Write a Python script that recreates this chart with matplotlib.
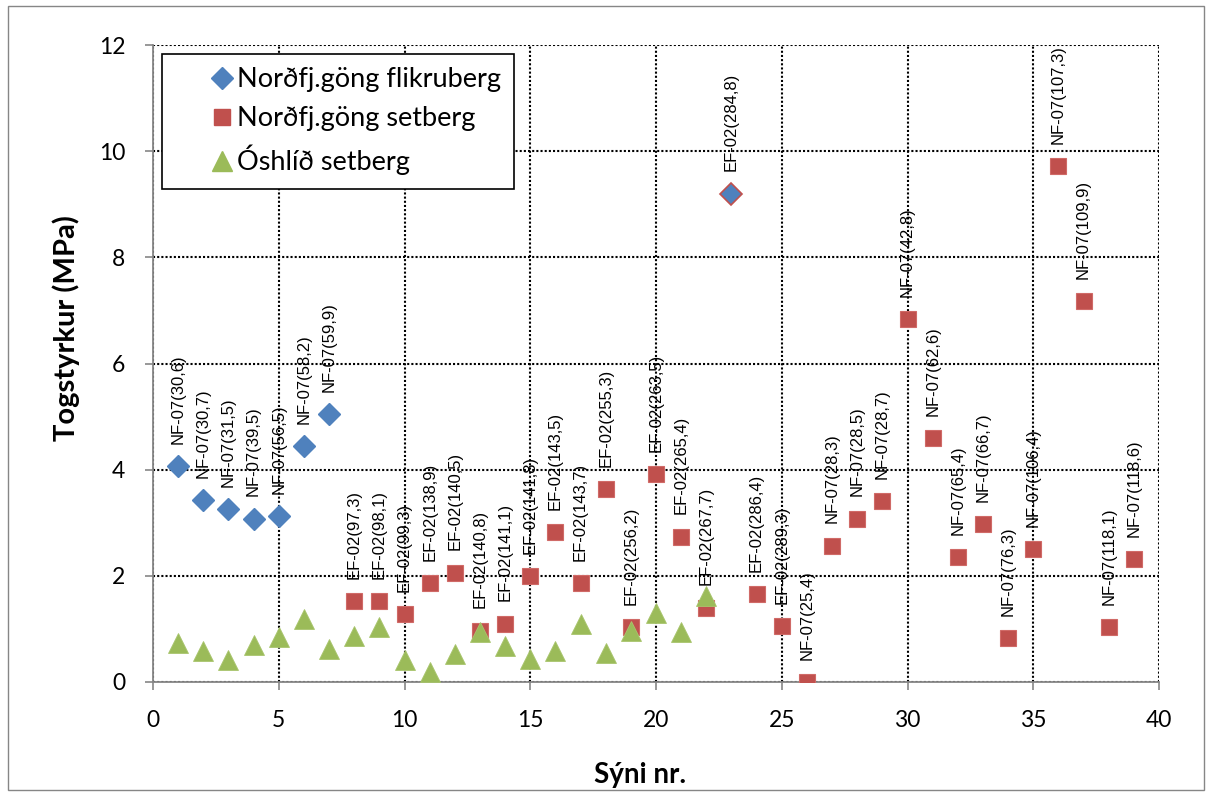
import matplotlib
matplotlib.use('Agg')
import matplotlib.pyplot as plt
from matplotlib.patches import Rectangle
from matplotlib.lines import Line2D

# Norðfj.göng flikruberg
flik_x = [1, 2, 3, 4, 5, 6, 7]
flik_y = [4.07, 3.43, 3.25, 3.08, 3.13, 4.45, 5.05]
flik_lab = ['NF-07(30,6)', 'NF-07(30,7)', 'NF-07(31,5)', 'NF-07(39,5)',
            'NF-07(56,5)', 'NF-07(58,2)', 'NF-07(59,9)']

# Norðfj.göng setberg
set_x = [8, 9, 10, 11, 12, 13, 14, 15, 16, 17, 18, 19, 20, 21, 22,
         24, 25, 26, 27, 28, 29, 30, 31, 32, 33, 34, 35, 36, 37, 38, 39]
set_y = [1.52, 1.52, 1.28, 1.87, 2.06, 0.97, 1.10, 1.99, 2.83, 1.86, 3.64,
         1.03, 3.91, 2.74, 1.40, 1.66, 1.05, 0.0, 2.57, 3.08, 3.41, 6.83,
         4.60, 2.35, 2.98, 0.82, 2.51, 9.72, 7.18, 1.03, 2.31]
set_lab = ['EF-02(97,3)', 'EF-02(98,1)', 'EF-02(99,3)', 'EF-02(138,9)',
           'EF-02(140,5)', 'EF-02(140,8)', 'EF-02(141,1)', 'EF-02(141,8)',
           'EF-02(143,5)', 'EF-02(143,7)', 'EF-02(255,3)', 'EF-02(256,2)',
           'EF-02(263,5)', 'EF-02(265,4)', 'EF-02(267,7)', 'EF-02(286,4)',
           'EF-02(289,3)', 'NF-07(25,4)', 'NF-07(28,3)', 'NF-07(28,5)',
           'NF-07(28,7)', 'NF-07(42,8)', 'NF-07(62,6)', 'NF-07(65,4)',
           'NF-07(66,7)', 'NF-07(76,3)', 'NF-07(106,4)', 'NF-07(107,3)',
           'NF-07(109,9)', 'NF-07(118,1)', 'NF-07(118,6)']

# odd point drawn as a diamond in the setberg series
odd_x = [23]
odd_y = [9.2]
odd_lab = ['EF-02(284,8)']

# Óshlíð setberg
osh_x = list(range(1, 23))
osh_y = [0.74, 0.59, 0.41, 0.69, 0.84, 1.18, 0.63, 0.86, 1.03, 0.42, 0.19,
         0.53, 0.94, 0.68, 0.44, 0.59, 1.10, 0.55, 0.97, 1.30, 0.94, 1.62]

series_names = ['Norðfj.göng flikruberg', 'Norðfj.göng setberg', 'Óshlíð setberg']

blue, red, green = '#4F81BD', '#C0504D', '#9BBB59'
grey = '#868686'
tick_font = 'Lato'
label_font = 'Liberation Sans'

fig = plt.figure(figsize=(12.1, 7.96), dpi=100)
fig.patches.append(Rectangle((8 / 1210, 6 / 796), 1196 / 1210, 784 / 796,
                             transform=fig.transFigure, fill=False,
                             edgecolor=grey, linewidth=1.0))
ax = fig.add_axes([153 / 1210, 1 - 682 / 796, 1006 / 1210, 637 / 796])

ax.plot(flik_x, flik_y, 'D', color=blue, ms=11, mec=blue, zorder=3)
ax.plot(set_x, set_y, 's', color=red, ms=11, mec='#D06A67', mew=0.8, zorder=3)
ax.plot(odd_x, odd_y, 'D', color=blue, ms=11, mec=red, mew=1.2, zorder=3)
ax.plot(osh_x, osh_y, '^', color=green, ms=14, mec='#A9C56E', mew=0.6, zorder=4)

# data labels, rotated above each point
for xs, ys, labs in [(flik_x, flik_y, flik_lab), (set_x, set_y, set_lab),
                     (odd_x, odd_y, odd_lab)]:
    for x, y, t in zip(xs, ys, labs):
        ax.annotate(t, (x, y), xytext=(0, 16), textcoords='offset points',
                    rotation=90, ha='center', va='bottom', fontsize=12,
                    family=label_font, zorder=5)

ax.set_xlim(0, 40)
ax.set_ylim(0, 12)
ax.set_xticks(range(0, 41, 5))
ax.set_yticks(range(0, 13, 2))
ax.grid(True, color='black', linestyle=(0, (1, 1)), linewidth=1.5)
ax.set_axisbelow(True)
for s in ['top', 'right']:
    ax.spines[s].set_visible(False)
for s in ['left', 'bottom']:
    ax.spines[s].set_color(grey)
    ax.spines[s].set_linewidth(1.3)
ax.tick_params(direction='out', length=6, width=1.2, color=grey,
               labelsize=16.5, pad=14)
for lbl in ax.get_xticklabels() + ax.get_yticklabels():
    lbl.set_family(tick_font)

fig.text(640 / 1210, 1 - 775 / 796, 'Sýni nr.', ha='center', va='center',
         fontsize=20, fontweight='bold', family=tick_font)
fig.text(66 / 1210, 1 - 328 / 796, 'Togstyrkur (MPa)', ha='center', va='center',
         rotation=90, fontsize=21, fontweight='bold', family=tick_font)

handles = [Line2D([], [], ls='', marker='D', ms=11, color=blue),
           Line2D([], [], ls='', marker='s', ms=11, color=red),
           Line2D([], [], ls='', marker='^', ms=14, color=green)]
leg = ax.legend(handles, series_names, loc='upper left',
                bbox_to_anchor=(0.009, 0.986), fancybox=False, framealpha=1,
                edgecolor='black', handlelength=3.4, handletextpad=-1.15,
                labelspacing=0.5, borderpad=0.5, borderaxespad=0,
                prop={'family': tick_font, 'size': 19.5})
leg.get_frame().set_linewidth(1.2)
leg.set_zorder(6)

fig.savefig('out.png', dpi=100, facecolor='white')
